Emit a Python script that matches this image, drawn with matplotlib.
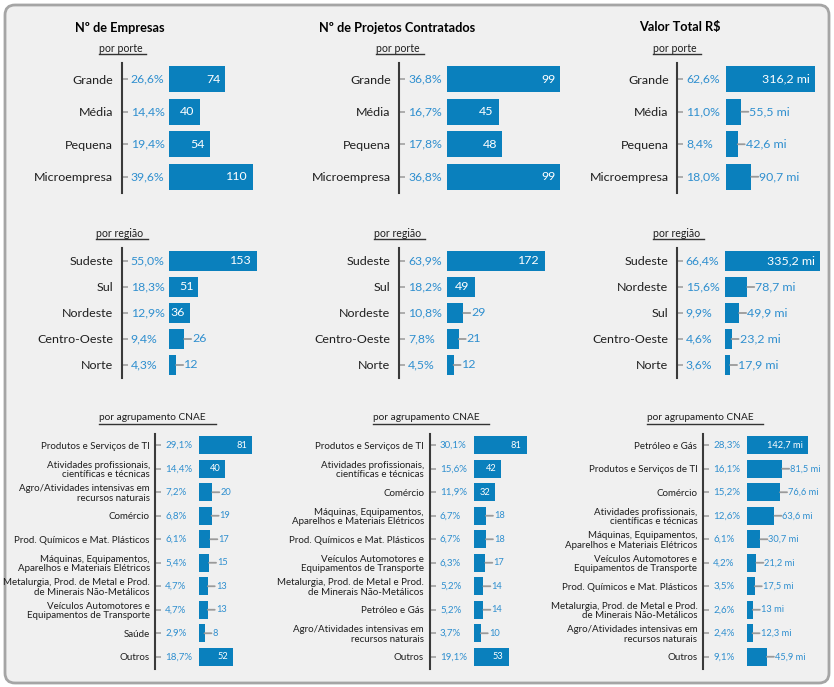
import matplotlib
matplotlib.use('Agg')
import matplotlib.pyplot as plt
from matplotlib.patches import FancyBboxPatch
from matplotlib.lines import Line2D

plt.rcParams['font.family'] = ['Lato', 'DejaVu Sans']

# ---------------- data ----------------
porte_cats = ['Grande', 'Média', 'Pequena', 'Microempresa']
emp_porte = [74, 40, 54, 110]
emp_porte_pct = ['26,6%', '14,4%', '19,4%', '39,6%']
proj_porte = [99, 45, 48, 99]
proj_porte_pct = ['36,8%', '16,7%', '17,8%', '36,8%']
val_porte = [316.2, 55.5, 42.6, 90.7]
val_porte_pct = ['62,6%', '11,0%', '8,4%', '18,0%']

reg_cats = ['Sudeste', 'Sul', 'Nordeste', 'Centro-Oeste', 'Norte']
emp_reg = [153, 51, 36, 26, 12]
emp_reg_pct = ['55,0%', '18,3%', '12,9%', '9,4%', '4,3%']
proj_reg = [172, 49, 29, 21, 12]
proj_reg_pct = ['63,9%', '18,2%', '10,8%', '7,8%', '4,5%']
val_reg_cats = ['Sudeste', 'Nordeste', 'Sul', 'Centro-Oeste', 'Norte']
val_reg = [335.2, 78.7, 49.9, 23.2, 17.9]
val_reg_pct = ['66,4%', '15,6%', '9,9%', '4,6%', '3,6%']

emp_cnae_cats = ['Produtos e Serviços de TI',
                 'Atividades profissionais,\ncientíficas e técnicas',
                 'Agro/Atividades intensivas em\nrecursos naturais',
                 'Comércio',
                 'Prod. Químicos e Mat. Plásticos',
                 'Máquinas, Equipamentos,\nAparelhos e Materiais Elétricos',
                 'Metalurgia, Prod. de Metal e Prod.\nde Minerais Não-Metálicos',
                 'Veículos Automotores e\nEquipamentos de Transporte',
                 'Saúde',
                 'Outros']
emp_cnae = [81, 40, 20, 19, 17, 15, 13, 13, 8, 52]
emp_cnae_pct = ['29,1%', '14,4%', '7,2%', '6,8%', '6,1%', '5,4%', '4,7%', '4,7%', '2,9%', '18,7%']

proj_cnae_cats = ['Produtos e Serviços de TI',
                  'Atividades profissionais,\ncientíficas e técnicas',
                  'Comércio',
                  'Máquinas, Equipamentos,\nAparelhos e Materiais Elétricos',
                  'Prod. Químicos e Mat. Plásticos',
                  'Veículos Automotores e\nEquipamentos de Transporte',
                  'Metalurgia, Prod. de Metal e Prod.\nde Minerais Não-Metálicos',
                  'Petróleo e Gás',
                  'Agro/Atividades intensivas em\nrecursos naturais',
                  'Outros']
proj_cnae = [81, 42, 32, 18, 18, 17, 14, 14, 10, 53]
proj_cnae_pct = ['30,1%', '15,6%', '11,9%', '6,7%', '6,7%', '6,3%', '5,2%', '5,2%', '3,7%', '19,1%']

val_cnae_cats = ['Petróleo e Gás',
                 'Produtos e Serviços de TI',
                 'Comércio',
                 'Atividades profissionais,\ncientíficas e técnicas',
                 'Máquinas, Equipamentos,\nAparelhos e Materiais Elétricos',
                 'Veículos Automotores e\nEquipamentos de Transporte',
                 'Prod. Químicos e Mat. Plásticos',
                 'Metalurgia, Prod. de Metal e Prod.\nde Minerais Não-Metálicos',
                 'Agro/Atividades intensivas em\nrecursos naturais',
                 'Outros']
val_cnae = [142.7, 81.5, 76.6, 63.6, 30.7, 21.2, 17.5, 13.0, 12.3, 45.9]
val_cnae_pct = ['28,3%', '16,1%', '15,2%', '12,6%', '6,1%', '4,2%', '3,5%', '2,6%', '2,4%', '9,1%']

titles = ['Nº de Empresas', 'Nº de Projetos Contratados', 'Valor Total R$']
sub_porte = 'por porte'
sub_reg = 'por região'
sub_cnae = 'por agrupamento CNAE'

# ---------------- style ----------------
W, H = 834, 687
PT = 0.72  # points per pixel at dpi 100
BAR = '#0a80bd'
PCT = '#2f8fcf'
TXT = '#1e1e1e'
GREY = '#9a9a9a'

fig = plt.figure(figsize=(W / 100, H / 100), dpi=100)
fig.patch.set_facecolor('white')
bg = fig.add_axes([0, 0, 1, 1])
bg.set_xlim(0, W)
bg.set_ylim(H, 0)
bg.axis('off')
bg.add_patch(FancyBboxPatch((5, 5), 824, 678, boxstyle='round,pad=0,rounding_size=10',
                            fc='#f0f0f0', ec='#a5a5a5', lw=2))

renderer = fig.canvas.get_renderer()


def fit_size(sample, target_px, weight='normal'):
    """font size (pt) whose rendering of `sample` is target_px wide"""
    t = bg.text(0, 0, sample, fontsize=10, fontweight=weight)
    w = t.get_window_extent(renderer).width
    t.remove()
    return 10 * target_px / w


def fmt_int(v):
    return f'{int(v)}'


def fmt_mi(v):
    if float(v).is_integer():
        return f'{int(v)} mi'
    return f'{v:.1f}'.replace('.', ',') + ' mi'


def panel(cats, vals, pcts, fmt, axis_x, bar_x, y0, y1, scale, cfs, pfs, vfs, bar_h,
          pct_gap=9, cat_gap=8.5, lsp=1.08, margin=4):
    n = len(cats)
    width_px = 160
    ax = fig.add_axes([bar_x / W, 1 - y1 / H, width_px / W, (y1 - y0) / H])
    ax.patch.set_visible(False)
    ax.set_xlim(0, width_px / scale)
    ax.set_ylim(n - 0.5, -0.5)
    for s in ['top', 'right', 'bottom']:
        ax.spines[s].set_visible(False)
    ax.spines['left'].set_position(('outward', (bar_x - axis_x) * PT))
    ax.spines['left'].set_color('#3a3a3a')
    ax.spines['left'].set_linewidth(1.5)
    ax.set_xticks([])
    ax.set_yticks(range(n))
    ax.set_yticklabels(cats, fontsize=cfs, color=TXT)
    for lbl in ax.get_yticklabels():
        lbl.set_linespacing(lsp)
    ax.tick_params(axis='y', direction='in', length=6 * PT, width=1.1, color=GREY, pad=cat_gap * PT)
    ax.barh(range(n), vals, height=bar_h, color=BAR, edgecolor='none')
    for i, (v, p) in enumerate(zip(vals, pcts)):
        ax.annotate(p, xy=(0, i), xytext=(-(bar_x - axis_x - pct_gap) * PT, 0),
                    textcoords='offset points', ha='left', va='center',
                    fontsize=pfs, color=PCT)
        lab = fmt(v)
        t = ax.annotate(lab, xy=(v, i), xytext=(-5 * PT, 0), textcoords='offset points',
                        ha='right', va='center', fontsize=vfs, color='white')
        bb = t.get_window_extent(renderer)
        if bb.width + margin > v * scale:
            t.remove()
            ax.annotate('', xy=(v, i), xytext=(7 * PT, 0), textcoords='offset points',
                        arrowprops=dict(arrowstyle='-', color=GREY, lw=1.3, shrinkA=0, shrinkB=0))
            ax.annotate(lab, xy=(v, i), xytext=(8 * PT, 0), textcoords='offset points',
                        ha='left', va='center', fontsize=vfs, color=PCT)
    return ax


def subtitle(text, cx, cy, fs, extra=4):
    t = bg.text(cx, cy, text, ha='center', va='center', fontsize=fs, color=TXT)
    bb = t.get_window_extent(renderer)
    uy = cy + 5.5
    bg.add_line(Line2D([bb.x0, bb.x1 + extra], [uy, uy], color='#333333', lw=1.0))


# font sizes fitted to the reference text widths
TFS = fit_size('Nº de Projetos Contratados', 157, 'bold')
SFS = fit_size('por porte', 44)
SCFS = fit_size('por agrupamento CNAE', 106)
CFS = fit_size('Microempresa', 79)
PFS = fit_size('26,6%', 34)
VFS = fit_size('316,2 mi', 48)
CC = fit_size('Prod. Químicos e Mat. Plásticos', 135)
CP = fit_size('29,1%', 27)
CV = fit_size('142,7 mi', 36)

# titles
for txt, cx in zip(titles, [119.5, 396.7, 679.7]):
    bg.text(cx, 27.5, txt, ha='center', va='center', fontsize=TFS, fontweight='bold', color='black')

for cx in [120.5, 398, 675]:
    subtitle(sub_porte, cx, 48.5, SFS)
for cx in [120, 397.5, 676.8]:
    subtitle(sub_reg, cx, 233.5, SFS)
for cx in [152.5, 426, 700]:
    subtitle(sub_cnae, cx, 418, SCFS, extra=10)

# porte
panel(porte_cats, emp_porte, emp_porte_pct, fmt_int, 121.7, 169.3, 63, 193, 0.758, CFS, PFS, VFS, 0.8)
panel(porte_cats, proj_porte, proj_porte_pct, fmt_int, 399.3, 447.3, 63, 193, 1.142, CFS, PFS, VFS, 0.8)
panel(porte_cats, val_porte, val_porte_pct, fmt_mi, 677.3, 725.7, 63, 193, 0.2824, CFS, PFS, VFS, 0.8)
# region
panel(reg_cats, emp_reg, emp_reg_pct, fmt_int, 121.7, 169.3, 248, 378, 0.571, CFS, PFS, VFS, 0.78)
panel(reg_cats, proj_reg, proj_reg_pct, fmt_int, 399.0, 446.7, 248, 378, 0.5717, CFS, PFS, VFS, 0.78)
panel(val_reg_cats, val_reg, val_reg_pct, fmt_mi, 676.7, 725.0, 248, 378, 0.283, CFS, PFS, VFS, 0.78)
# cnae
panel(emp_cnae_cats, emp_cnae, emp_cnae_pct, fmt_int, 155.3, 199.3, 433.5, 668.5, 0.65, CC, CP, CV, 0.77,
      pct_gap=10, cat_gap=5.5, lsp=1.05, margin=7.5)
panel(proj_cnae_cats, proj_cnae, proj_cnae_pct, fmt_int, 430.0, 474.3, 433.5, 668.5, 0.647, CC, CP, CV, 0.77,
      pct_gap=10, cat_gap=6, lsp=1.05, margin=7.5)
panel(val_cnae_cats, val_cnae, val_cnae_pct, fmt_mi, 703.3, 747.3, 433.5, 668.5, 0.4275, CC, CP, CV, 0.77,
      pct_gap=10, cat_gap=6, lsp=1.05, margin=7.5)

fig.savefig('out.png', dpi=100, facecolor=fig.get_facecolor())
